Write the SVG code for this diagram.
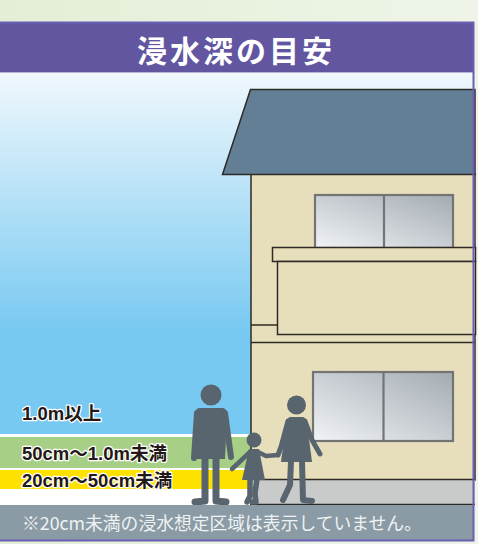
<svg xmlns="http://www.w3.org/2000/svg" width="478" height="544" viewBox="0 0 478 544">
  <defs>
    <linearGradient id="bg" x1="0" y1="0" x2="1" y2="0">
      <stop offset="0" stop-color="#e4eed6"/>
      <stop offset="1" stop-color="#eef5e8"/>
    </linearGradient>
    <linearGradient id="sky" x1="0" y1="73" x2="0" y2="330" gradientUnits="userSpaceOnUse">
      <stop offset="0" stop-color="#f0f8fd"/>
      <stop offset="1" stop-color="#78c9f1"/>
    </linearGradient>
    <linearGradient id="glass" x1="1" y1="0" x2="0" y2="1">
      <stop offset="0" stop-color="#a3abb2"/>
      <stop offset="1" stop-color="#f0f3f6"/>
    </linearGradient>
    <style>
      .wall { fill: #e7dfbc; stroke: #2e2a26; stroke-width: 1.5; }
      .edge { fill: none; stroke: #2e2a26; stroke-width: 1.5; }
      .win { fill: url(#glass); stroke: #747474; stroke-width: 2.2; }
      .sil { fill: #59656e; }
      .limb { fill: none; stroke: #59656e; stroke-linecap: round; stroke-linejoin: round; }
      .lvl { font-family: "Liberation Sans", "Noto Sans CJK JP", sans-serif; font-weight: 700; font-size: 18.5px;
             fill: #231815; stroke: #ffffff; stroke-width: 2.5; paint-order: stroke; stroke-linejoin: round; }
    </style>
  </defs>

  <!-- page background -->
  <rect x="0" y="0" width="478" height="544" fill="url(#bg)"/>

  <!-- panel: sky -->
  <rect x="0" y="72" width="473" height="468" fill="url(#sky)"/>

  <!-- depth bands -->
  <g id="bands">
    <rect x="0" y="434" width="250" height="3" fill="#ffffff"/>
    <rect x="0" y="437" width="250" height="31" fill="#a7cf86"/>
    <rect x="0" y="468" width="250" height="2" fill="#ffffff"/>
    <rect x="0" y="470" width="250" height="19" fill="#ffe100"/>
    <rect x="0" y="489" width="250" height="16" fill="#ffffff"/>
  </g>

  <!-- house -->
  <g id="house">
    <rect class="wall" x="251" y="174" width="224" height="306"/>
    <polygon points="250.5,89.5 475,89.5 475,174.5 222.5,174.5" fill="#637f95" stroke="#2e2a26" stroke-width="1.5"/>
    <!-- upper window -->
    <rect class="win" x="315" y="195" width="138" height="53"/>
    <line x1="384" y1="195" x2="384" y2="248" stroke="#747474" stroke-width="2.2"/>
    <!-- balcony -->
    <rect class="wall" x="272.5" y="247.5" width="203" height="14"/>
    <rect class="wall" x="277.5" y="261.5" width="198" height="73"/>
    <line class="edge" x1="251" y1="325" x2="277.5" y2="325"/>
    <line class="edge" x1="251" y1="342.5" x2="475" y2="342.5"/>
    <!-- lower window -->
    <rect class="win" x="313" y="372" width="140" height="69"/>
    <line x1="383.5" y1="372" x2="383.5" y2="441" stroke="#747474" stroke-width="2.2"/>
    <!-- ground -->
    <rect x="250" y="479" width="225" height="26" fill="#c9caca"/>
    <line class="edge" x1="250" y1="479.5" x2="475" y2="479.5"/>
    <line class="edge" x1="250" y1="504.5" x2="475" y2="504.5"/>
  </g>

  <!-- people -->
  <g id="man">
    <circle class="sil" cx="211" cy="395" r="10.5"/>
    <path class="sil" d="M199,408 L223,408 Q227,409 227,414 L225,459 L197,459 L195,414 Q195,409 199,408 Z"/>
    <path class="limb" stroke-width="6" d="M197,413 L194,458"/>
    <path class="limb" stroke-width="6" d="M225,413 L231,457"/>
    <path class="limb" stroke-width="7" d="M205,458 L205,501 L195,502"/>
    <path class="limb" stroke-width="7" d="M216,458 L216,501 L226,502"/>
  </g>

  <g id="child">
    <circle class="sil" cx="254" cy="440" r="7.5"/>
    <path class="sil" d="M249,449 L259,449 L265,480 L242,480 Z"/>
    <path class="limb" stroke-width="4.5" d="M250,452 L232,469"/>
    <path class="limb" stroke-width="4.5" d="M258,452 L266,456 L278,455"/>
    <path class="limb" stroke-width="5.5" d="M250,479 L250,496 L247,502"/>
    <path class="limb" stroke-width="5.5" d="M257,479 L255,493 L256,502 L252,502"/>
  </g>

  <g id="woman">
    <circle class="sil" cx="296.5" cy="405" r="9.5"/>
    <path class="sil" d="M290,417 L303,417 Q306,418 307,423 L312,462 L281,462 L286,423 Q287,418 290,417 Z"/>
    <path class="limb" stroke-width="5" d="M288,421 L281,447 L278,455"/>
    <path class="limb" stroke-width="5" d="M305,421 L312,440 L320,454"/>
    <path class="limb" stroke-width="6" d="M291,461 L290,485 L283,500"/>
    <path class="limb" stroke-width="6" d="M302,461 L303,500 L312,501"/>
  </g>

  <!-- level labels -->
  <g id="labels">
    <text class="lvl" x="22" y="420">1.0m以上</text>
    <text class="lvl" x="22" y="460">50cm～1.0m未満</text>
    <text class="lvl" x="22" y="487">20cm～50cm未満</text>
  </g>

  <!-- footnote band -->
  <g id="footer">
    <rect x="0" y="505" width="473" height="35" fill="#8a9ba5"/>
    <text x="22" y="530" font-family="'Noto Sans CJK JP', 'Noto Sans', sans-serif" font-size="17.8" fill="#eef2f4">※20cm未満の浸水想定区域は表示していません。</text>
  </g>

  <!-- title bar -->
  <g id="title">
    <rect x="0" y="22" width="473" height="50" fill="#6256a0"/>
    <line x1="0" y1="72.5" x2="473" y2="72.5" stroke="#b7b2d8" stroke-width="1"/>
    <text x="236" y="62" text-anchor="middle" font-family="'Noto Sans CJK JP', sans-serif" font-weight="700" font-size="30" letter-spacing="3" fill="#ffffff">浸水深の目安</text>
  </g>

  <!-- frame -->
  <path d="M0,22.5 L473.5,22.5 L473.5,540.5 L0,540.5" fill="none" stroke="#6b5fb5" stroke-width="2"/>
</svg>
